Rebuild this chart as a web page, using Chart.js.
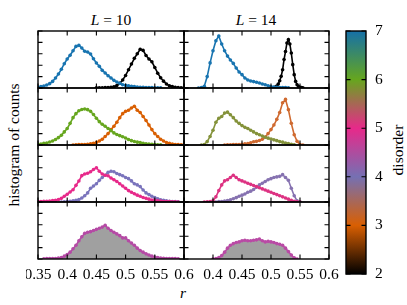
<!DOCTYPE html>
<html>
<head>
<meta charset="utf-8">
<script src="https://cdn.jsdelivr.net/npm/chart.js@4/dist/chart.umd.min.js"></script>
<style>
  body { margin: 0; background: #fff; width: 407px; height: 305px; overflow: hidden; position: relative; font-family: "Liberation Serif", serif; }
  canvas { position: absolute; }
  .txt { position: absolute; font-size: 15.5px; line-height: 20px; height: 20px; text-align: center; white-space: nowrap; color: #000; }
  .rot { transform: rotate(-90deg); }
</style>
</head>
<body>
<div class="txt" style="left:61px;top:10px;width:100px"><i>L</i> = 10</div>
<div class="txt" style="left:206px;top:10px;width:100px"><i>L</i> = 14</div>
<div class="txt rot" style="left:-86px;top:135px;width:200px">histogram of counts</div>
<div class="txt" style="left:163px;top:283px;width:40px"><i>r</i></div>
<div class="txt rot" style="left:298px;top:140px;width:200px">disorder</div>
<script>
const _ = null;

// r bins (shared grid) and a finer grid for the narrow L=14 peak
const rGrid = [
  0.350,0.355,0.360,0.365,0.370,0.375,0.380,0.385,0.390,0.395,
  0.400,0.405,0.410,0.415,0.420,0.425,0.430,0.435,0.440,0.445,
  0.450,0.455,0.460,0.465,0.470,0.475,0.480,0.485,0.490,0.495,
  0.500,0.505,0.510,0.515,0.520,0.525,0.530,0.535,0.540,0.545,
  0.550,0.555,0.560,0.565,0.570,0.575,0.580,0.585,0.590,0.595,0.600
];
const rFine = [
  0.5000,0.5025,0.5050,0.5075,0.5100,0.5125,0.5150,0.5175,0.5200,0.5225,
  0.5250,0.5275,0.5300,0.5325,0.5350,0.5375,0.5400,0.5425,0.5450,0.5475,
  0.5500,0.5525,0.5550
];

// L = 10
const blueL10 = [0.06,0.12,0.18,0.26,0.38,0.58,0.88,1.23,1.64,2.13, 2.54,2.87,3.27,3.65,3.74,3.51,3.22,3.16,2.98,2.57, 2.19,1.90,1.55,1.32,1.08,0.88,0.67,0.53,0.41,0.29, 0.23,0.19,0.15,0.12,0.09,0.07,0.06,0.05,0.03,0.03, 0.02,0.02,0.01,_,_,_,_,_,_,_,_];
const blackL10 = [_,_,_,_,_,_,_,_,_,_, _,_,_,_,_,_,_,_,_,_, 0.01,0.01,0.02,0.03,0.04,0.06,0.10,0.22,0.42,0.70, 1.10,1.60,2.10,2.60,3.00,3.40,3.30,2.85,2.55,2.30, 1.80,1.30,0.90,0.60,0.35,0.20,0.12,0.06,0.03,0.02,0.01];
const greenL10 = [0.06,0.09,0.14,0.18,0.26,0.35,0.48,0.65,0.85,1.15, 1.45,1.90,2.40,2.75,3.00,3.12,3.16,3.10,2.95,2.68, 2.35,2.05,1.82,1.65,1.45,1.26,1.06,0.92,0.82,0.72, 0.62,0.48,0.38,0.31,0.25,0.22,0.15,0.11,0.08,0.06, 0.04,0.02,0.01,_,_,_,_,_,_,_,_];
const orangeL10 = [_,_,_,_,_,_,_,_,_,_, _,_,0.00,0.02,0.03,0.04,0.05,0.07,0.10,0.15, 0.23,0.35,0.50,0.75,1.00,1.35,1.65,2.00,2.40,2.75, 2.95,3.05,3.25,3.40,3.05,2.85,2.50,2.15,1.75,1.35, 1.00,0.75,0.50,0.35,0.22,0.14,0.08,0.05,0.03,0.02,0.01];
const pinkL10 = [0.04,0.05,0.06,0.07,0.09,0.12,0.15,0.22,0.32,0.50, 0.68,0.88,1.08,1.46,1.84,2.31,2.45,2.52,2.65,2.85, 3.00,2.70,2.45,2.35,2.30,2.10,1.95,1.80,1.60,1.40, 1.20,1.00,0.85,0.72,0.60,0.50,0.40,0.32,0.25,0.18, 0.14,0.10,0.08,0.05,0.04,0.03,0.02,0.01,0.00,_,_];
const purpleL10 = [_,_,_,_,_,_,_,_,0.00,0.02, 0.03,0.06,0.10,0.15,0.22,0.35,0.55,0.80,1.20,1.40, 1.60,1.90,2.15,2.35,2.60,2.70,2.65,2.50,2.40,2.30, 2.15,2.05,1.85,1.60,1.50,1.35,1.05,0.80,0.65,0.50, 0.38,0.28,0.20,0.15,0.10,0.07,0.05,0.03,0.01,_,_];
const mixL10 = [_,_,0.02,0.03,0.03,0.04,0.05,0.08,0.12,0.25, 0.40,0.60,0.90,1.20,1.60,1.95,2.25,2.35,2.40,2.50, 2.60,2.70,2.80,2.95,2.70,2.50,2.35,2.20,2.05,1.85, 1.85,1.60,1.40,1.20,0.95,0.75,0.60,0.45,0.35,0.25, 0.18,0.12,0.08,0.06,0.05,0.04,0.03,0.03,0.02,_,_];

// L = 14
const blueL14 = [_,_,_,_,_,0.00,0.03,0.15,1.00,2.20, 3.27,4.15,4.56,3.86,3.27,2.80,2.46,2.16,1.75,1.40, 1.17,0.88,0.70,0.61,0.56,0.50,0.44,0.35,0.29,0.20, 0.12,0.09,0.06,0.05,0.04,0.03,0.02,_,_,_, _,_,_,_,_,_,_,_,_,_,_];
const blackL14 = [0.00,0.00,0.03,0.08,0.18,0.35,0.64,1.02,1.60,2.50, 3.20,3.95,4.24,3.86,3.07,2.05,1.17,0.58,0.29,0.12, 0.06,0.03,0.01];
const oliveL14 = [_,_,_,_,_,_,0.00,0.05,0.30,0.75, 1.30,2.00,2.35,2.50,2.80,2.88,2.65,2.40,2.10,1.90, 1.70,1.55,1.45,1.30,1.15,1.00,0.90,0.78,0.68,0.60, 0.52,0.45,0.38,0.30,0.25,0.18,0.12,0.06,0.02,_, _,_,_,_,_,_,_,_,_,_,_];
const orangeL14 = [_,_,_,_,_,_,_,_,_,_, _,_,_,_,0.00,0.01,0.02,0.03,0.04,0.05, 0.07,0.10,0.13,0.20,0.28,0.32,0.40,0.50,0.70,1.00, 1.35,1.75,2.25,2.85,3.70,4.00,3.10,1.90,0.90,0.32, 0.05,0.00,_,_,_,_,_,_,_,_,_];
const pinkL14 = [_,_,_,_,_,_,_,0.00,0.01,0.03, 0.10,0.45,1.00,1.50,1.85,1.95,2.15,2.35,2.15,1.95, 1.85,1.75,1.65,1.55,1.45,1.35,1.25,1.15,1.05,0.95, 0.85,0.75,0.65,0.55,0.45,0.35,0.25,0.15,0.06,0.02, 0.00,_,_,_,_,_,_,_,_,_,_];
const purpleL14 = [_,_,_,_,_,_,_,_,_,_, _,0.00,0.03,0.05,0.08,0.12,0.20,0.28,0.38,0.50, 0.60,0.70,0.85,0.95,1.10,1.30,1.50,1.65,1.80,1.95, 2.05,2.15,2.20,2.25,2.40,2.15,1.90,1.20,0.55,0.10, 0.00,_,_,_,_,_,_,_,_,_,_];
const mixL14 = [_,_,_,_,_,_,_,_,_,_, 0.00,0.05,0.12,0.30,0.60,0.95,1.20,1.35,1.45,1.50, 1.60,1.65,1.60,1.60,1.65,1.68,1.75,1.60,1.50,1.55, 1.50,1.45,1.35,1.30,1.20,0.95,0.65,0.35,0.10,0.00, _,_,_,_,_,_,_,_,_,_,_];

// axis ticks
const xTicks = [0.35, 0.40, 0.45, 0.50, 0.55, 0.60];
const xTickLabels = ['0.35', '0.4', '0.45', '0.5', '0.55', '0.6'];
const yTicks = [0, 1, 2, 3, 4, 5];

// colour bar
const cbarStops = [2, 3, 4, 5, 6, 7];
const cbarColors = ['#000000', '#d95f02', '#7570b3', '#e7298a', '#66a61e', '#1570a8'];

const FONT = '15.5px "Liberation Serif", serif';
const P = 12;
const colX = [38, 184], colW = [146, 145];
const rowY = [31, 88, 145, 202], rowH = 57;

function pts(xs, ys) {
  return xs.map((x, i) => ({ x: x, y: ys[i] })).filter(p => p.y !== null);
}

// frame + inward ticks (matplotlib style), drawn after the data
const frameTicks = {
  id: 'frameTicks',
  afterDraw(chart, args, opts) {
    const { ctx, chartArea: a, scales } = chart;
    const x = scales.x, y = scales.y;
    ctx.save();
    ctx.strokeStyle = '#000';
    ctx.lineWidth = 1.1;
    ctx.beginPath();
    if (opts.xTicks) {
      opts.xTicks.forEach(v => {
        const px = x.getPixelForValue(v);
        ctx.moveTo(px, a.top); ctx.lineTo(px, a.top + 4.5);
        ctx.moveTo(px, a.bottom); ctx.lineTo(px, a.bottom - 4.5);
      });
    }
    opts.yTicks.forEach(v => {
      const py = y.getPixelForValue(v);
      ctx.moveTo(a.left, py); ctx.lineTo(a.left + 4.5, py);
      ctx.moveTo(a.right, py); ctx.lineTo(a.right - 4.5, py);
    });
    ctx.stroke();
    ctx.lineWidth = 1.4;
    ctx.strokeRect(a.left, a.top, a.right - a.left, a.bottom - a.top);

    ctx.fillStyle = '#000';
    ctx.font = FONT;
    ctx.textBaseline = 'middle';
    if (opts.xLabels) {
      ctx.textAlign = 'center';
      opts.xTicks.forEach((v, i) => {
        if (i === 0 && opts.skipFirst) return;
        ctx.fillText(opts.xLabels[i], x.getPixelForValue(v), a.bottom + 16);
      });
    }
    if (opts.yLabels) {
      ctx.textAlign = 'left';
      opts.yTicks.forEach((v, i) => ctx.fillText(opts.yLabels[i], a.right + 9, y.getPixelForValue(v)));
    }
    ctx.restore();
  }
};

function placeCanvas(left, top, w, h) {
  const cv = document.createElement('canvas');
  cv.width = w; cv.height = h;
  cv.style.left = left + 'px';
  cv.style.top = top + 'px';
  document.body.appendChild(cv);
  return cv;
}

function makePanel(col, row, series) {
  const bottomRow = row === 3;
  const extra = bottomRow ? 26 : 0;
  const cv = placeCanvas(colX[col] - P, rowY[row] - P, colW[col] + 2 * P, rowH + 2 * P + extra);
  new Chart(cv, {
    type: 'line',
    data: {
      datasets: series.map(s => ({
        data: pts(s.r, s.v),
        borderColor: s.color,
        backgroundColor: s.fill || s.color,
        pointBackgroundColor: s.color,
        fill: s.fill ? 'origin' : false
      }))
    },
    options: {
      responsive: false,
      animation: false,
      events: [],
      layout: { padding: { left: P, right: P, top: P, bottom: P + extra } },
      elements: {
        line: { borderWidth: 1.6, tension: 0 },
        point: { radius: 1.8, borderWidth: 0 }
      },
      plugins: {
        legend: { display: false },
        tooltip: { enabled: false },
        frameTicks: {
          xTicks: xTicks, yTicks: yTicks,
          xLabels: bottomRow ? xTickLabels : null,
          skipFirst: col === 1
        }
      },
      scales: {
        x: { type: 'linear', min: 0.35, max: 0.6, display: false },
        y: { type: 'linear', min: 0, max: 5, display: false }
      }
    },
    plugins: [frameTicks]
  });
}

makePanel(0, 0, [{ r: rGrid, v: blueL10, color: '#1874b0' }, { r: rGrid, v: blackL10, color: '#000000' }]);
makePanel(1, 0, [{ r: rGrid, v: blueL14, color: '#1874b0' }, { r: rFine, v: blackL14, color: '#000000' }]);
makePanel(0, 1, [{ r: rGrid, v: greenL10, color: '#66a61e' }, { r: rGrid, v: orangeL10, color: '#d95f02' }]);
makePanel(1, 1, [{ r: rGrid, v: oliveL14, color: '#84923a' }, { r: rGrid, v: orangeL14, color: '#cf6a30' }]);
makePanel(0, 2, [{ r: rGrid, v: pinkL10, color: '#e7298a' }, { r: rGrid, v: purpleL10, color: '#7a74bc' }]);
makePanel(1, 2, [{ r: rGrid, v: pinkL14, color: '#dd3282' }, { r: rGrid, v: purpleL14, color: '#8672b0' }]);
makePanel(0, 3, [{ r: rGrid, v: mixL10, color: '#b54aa5', fill: '#a0a0a0' }]);
makePanel(1, 3, [{ r: rGrid, v: mixL14, color: '#b94aa5', fill: '#a0a0a0' }]);

// colour bar as a floating bar with a gradient fill
function cbarGradient(chart) {
  const { ctx, chartArea, scales } = chart;
  if (!chartArea) return cbarColors[0];
  const y = scales.y;
  const lo = cbarStops[0], hi = cbarStops[cbarStops.length - 1];
  const g = ctx.createLinearGradient(0, y.getPixelForValue(lo), 0, y.getPixelForValue(hi));
  cbarStops.forEach((v, i) => g.addColorStop((v - lo) / (hi - lo), cbarColors[i]));
  return g;
}

const cbX = 346, cbY = 31, cbW = 20, cbH = 243;
const cbCanvas = placeCanvas(cbX - P, cbY - P, cbW + 2 * P + 24, cbH + 2 * P);
new Chart(cbCanvas, {
  type: 'bar',
  data: {
    labels: ['disorder'],
    datasets: [{
      data: [[cbarStops[0], cbarStops[cbarStops.length - 1]]],
      backgroundColor: ctx => cbarGradient(ctx.chart),
      borderWidth: 0,
      barPercentage: 1,
      categoryPercentage: 1
    }]
  },
  options: {
    responsive: false,
    animation: false,
    events: [],
    layout: { padding: { left: P, right: P + 24, top: P, bottom: P } },
    plugins: {
      legend: { display: false },
      tooltip: { enabled: false },
      frameTicks: { yTicks: cbarStops, yLabels: cbarStops.map(String) }
    },
    scales: {
      x: { display: false },
      y: { min: 2, max: 7, display: false }
    }
  },
  plugins: [frameTicks]
});
</script>
</body>
</html>
